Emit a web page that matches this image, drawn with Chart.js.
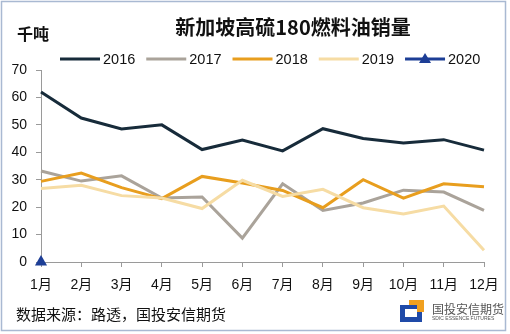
<!DOCTYPE html>
<html>
<head>
<meta charset="utf-8">
<script src="https://cdn.jsdelivr.net/npm/chart.js@4"></script>
<style>
  html, body { margin: 0; padding: 0; background: #fff; }
  #wrap { width: 510px; height: 334px; position: relative; }
</style>
</head>
<body>
<div id="wrap"><canvas id="salesChart" width="510" height="334"></canvas></div>
<script>
const months = ["1月", "2月", "3月", "4月", "5月", "6月", "7月", "8月", "9月", "10月", "11月", "12月"];
const years = ["2016", "2017", "2018", "2019", "2020"];
const sales2016 = [62, 52.5, 48.5, 50, 41, 44.5, 40.5, 48.6, 45, 43.4, 44.6, 40.8];
const sales2017 = [33.2, 29.5, 31.4, 23.3, 23.7, 8.7, 28.5, 18.8, 21.5, 26.2, 25.5, 18.8];
const sales2018 = [29.4, 32.4, 27.1, 23.1, 31.2, 28.8, 26.1, 19.8, 30, 23.3, 28.5, 27.4];
const sales2019 = [26.8, 28, 24.2, 23.3, 19.5, 29.8, 23.9, 26.5, 19.8, 17.5, 20.4, 4.3];
const sales2020 = [0, null, null, null, null, null, null, null, null, null, null, null];
const yTicks = [0, 10, 20, 30, 40, 50, 60, 70];

const colors = ["#172b3a", "#aaa39a", "#e89e1e", "#f6dca4", "#1d3e96"];
const numFont = "'Liberation Sans', 'Noto Sans CJK SC', sans-serif";
const cjkFont = "'Noto Sans CJK SC', sans-serif";

const series = [sales2016, sales2017, sales2018, sales2019, sales2020];

const datasets = series.map((values, i) => ({
  label: years[i],
  data: values,
  borderColor: colors[i],
  backgroundColor: colors[i],
  borderWidth: 3,
  pointRadius: i === 4 ? 7 : 0,
  pointStyle: "triangle",
  pointBorderWidth: 0,
  tension: 0,
  clip: false,
  order: 4 - i,
}));

// title, unit, legend, footer, logo and the frame
const decorations = {
  id: "decorations",
  afterDraw(chart) {
    const ctx = chart.ctx;
    ctx.save();

    ctx.strokeStyle = "#a9b9d2";
    ctx.lineWidth = 1.5;
    ctx.strokeRect(1.5, 1.5, 504, 329);

    ctx.fillStyle = "#111";
    ctx.textBaseline = "middle";
    ctx.textAlign = "center";
    ctx.font = "bold 20px " + cjkFont;
    ctx.fillText("新加坡高硫180燃料油销量", 293, 27);

    ctx.textAlign = "left";
    ctx.font = "bold 16px " + cjkFont;
    ctx.fillText("千吨", 17, 34);

    // legend
    ctx.font = "14.5px " + numFont;
    let x = 60;
    const y = 59;
    years.forEach((yr, i) => {
      ctx.strokeStyle = colors[i];
      ctx.lineWidth = 3;
      ctx.beginPath();
      ctx.moveTo(x, y);
      ctx.lineTo(x + 40, y);
      ctx.stroke();
      if (i === 4) {
        ctx.fillStyle = colors[i];
        ctx.beginPath();
        ctx.moveTo(x + 20, y - 6);
        ctx.lineTo(x + 26, y + 4);
        ctx.lineTo(x + 14, y + 4);
        ctx.closePath();
        ctx.fill();
      }
      ctx.fillStyle = "#111";
      ctx.fillText(yr, x + 43, y + 1);
      x += 43 + ctx.measureText(yr).width + 11;
    });

    // footer
    ctx.font = "15px " + cjkFont;
    ctx.fillStyle = "#111";
    ctx.fillText("数据来源：路透，国投安信期货", 16, 314);

    // logo
    ctx.fillStyle = "#1f4aa8";
    ctx.fillRect(400, 305, 22, 17);
    ctx.fillStyle = "#fff";
    ctx.fillRect(405, 309, 12, 8);
    ctx.fillStyle = "#f0a020";
    ctx.fillRect(409, 300, 15, 5);
    ctx.fillRect(417, 300, 7, 12);
    ctx.fillStyle = "#555";
    ctx.font = "12px " + cjkFont;
    ctx.fillText("国投安信期货", 432, 309);
    ctx.font = "5px " + numFont;
    ctx.fillText("SDIC ESSENCE FUTURES", 432, 319);

    ctx.restore();
  },
};

new Chart(document.getElementById("salesChart"), {
  type: "line",
  data: { labels: months, datasets },
  options: {
    responsive: false,
    animation: false,
    layout: { padding: { top: 70, left: 0, right: 26, bottom: 32 } },
    plugins: {
      legend: { display: false },
      title: { display: false },
      tooltip: { enabled: false },
    },
    scales: {
      x: {
        offset: false,
        grid: { drawOnChartArea: false, drawTicks: true, tickLength: 5, color: "#9a9a9a" },
        border: { color: "#9a9a9a", width: 1 },
        ticks: { font: { size: 14, family: numFont }, color: "#111", padding: 10, maxRotation: 0, autoSkip: false },
        afterFit(scale) { scale.height = 40; },
      },
      y: {
        min: 0,
        max: 70,
        afterBuildTicks(scale) { scale.ticks = yTicks.map((v) => ({ value: v })); },
        grid: { drawOnChartArea: false, drawTicks: true, tickLength: 5, color: "#9a9a9a" },
        border: { color: "#9a9a9a", width: 1 },
        ticks: { font: { size: 14, family: numFont }, color: "#111", padding: 9 },
        afterFit(scale) { scale.width = 41; },
      },
    },
  },
  plugins: [decorations],
});
</script>
</body>
</html>
